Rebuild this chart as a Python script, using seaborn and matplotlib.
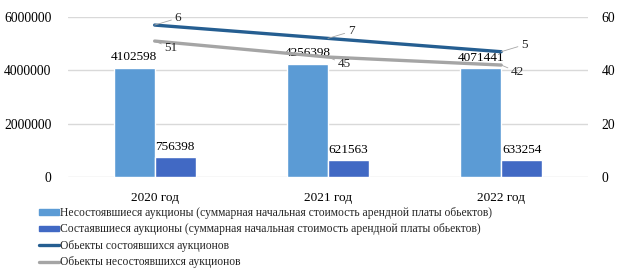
import numpy as np
import pandas as pd
import seaborn as sns
from matplotlib import pyplot as plt
from matplotlib.lines import Line2D

years = ['2020 год', '2021 год', '2022 год']
failed_sum = [4102598, 4256398, 4071441]
held_sum = [756398, 621563, 633254]
held_objects = [6, 7, 5]
failed_objects = [51, 45, 42]

bar_names = ['Несостоявшиеся аукционы (суммарная начальная стоимость арендной платы обьектов)',
             'Состаявшиеся аукционы (суммарная начальная стоимость арендной платы обьектов)']
line_names = ['Обьекты состоявшихся аукционов', 'Обьекты несостоявшихся аукционов']

sns.set_theme(style='white')
plt.rcParams['font.family'] = ['Liberation Serif', 'DejaVu Serif']

bars = pd.DataFrame({
    'year': years * 2,
    'value': failed_sum + held_sum,
    'series': [bar_names[0]] * 3 + [bar_names[1]] * 3,
})

fig = plt.figure(figsize=(6.24, 2.71), dpi=100)
ax = fig.add_axes([0.109, 0.347, 0.833, 0.59])

sns.barplot(data=bars, x='year', y='value', hue='series', order=years,
            hue_order=bar_names, palette=['#5B9BD5', '#4169C4'],
            width=0.474, gap=0, ax=ax, legend=False, saturation=1)
for c in ax.containers:
    ax.bar_label(c, labels=[str(int(v)) for v in c.datavalues], padding=3,
                 fontsize=9.5, color='black')

ax.set_ylim(0, 6000000)
ax.set_yticks([0, 2000000, 4000000, 6000000])
ax.set_yticklabels(['0', '2000000', '4000000', '6000000'])
ax.grid(axis='y', color='#D9D9D9', linewidth=1)
ax.set_axisbelow(True)
ax.set_xlabel('')
ax.set_ylabel('')
ax.tick_params(axis='y', length=0, labelsize=9.8, colors='black', pad=12)
ax.tick_params(axis='x', length=0, labelsize=9.5, colors='black', pad=11)
for s in ax.spines.values():
    s.set_visible(False)

# stacked lines: gray first, blue sits on top of gray
ax2 = ax.twinx()
xs = np.arange(len(years))
stacked = np.array(failed_objects) + np.array(held_objects)
sns.lineplot(x=xs, y=failed_objects, color='#A5A5A5', linewidth=2.4, ax=ax2)
sns.lineplot(x=xs, y=stacked, color='#255E91', linewidth=2.4, ax=ax2)
ax2.set_ylim(0, 60)
ax2.set_yticks([0, 20, 40, 60])
ax2.tick_params(axis='y', length=0, labelsize=9.8, colors='black', pad=10)
for s in ax2.spines.values():
    s.set_visible(False)
ax2.grid(False)
ax.set_xlim(-0.5, 2.5)

for i in range(len(years)):
    ax2.annotate(str(held_objects[i]), xy=(xs[i], stacked[i]), xytext=(20, 7),
                 textcoords='offset pixels', fontsize=9.5, va='center', ha='left',
                 arrowprops=dict(arrowstyle='-', color='#A6A6A6', lw=0.6, shrinkA=0, shrinkB=0))
    ax2.annotate(str(failed_objects[i]), xy=(xs[i], failed_objects[i]), xytext=(10, -7),
                 textcoords='offset pixels', fontsize=9.5, va='center', ha='left',
                 arrowprops=dict(arrowstyle='-', color='#A6A6A6', lw=0.6, shrinkA=0, shrinkB=0))

handles = [plt.Rectangle((0, 0), 1, 1, color='#5B9BD5'),
           plt.Rectangle((0, 0), 1, 1, color='#4169C4'),
           Line2D([0], [0], color='#255E91', linewidth=2.4),
           Line2D([0], [0], color='#A5A5A5', linewidth=2.4)]
fig.legend(handles, bar_names + line_names, loc='upper left',
           bbox_to_anchor=(0.062, 0.236), frameon=False, fontsize=8.4,
           handlelength=1.75, handleheight=0.35, handletextpad=0.1,
           labelspacing=0.38, borderpad=0, borderaxespad=0)

fig.savefig('out.png', dpi=100)
